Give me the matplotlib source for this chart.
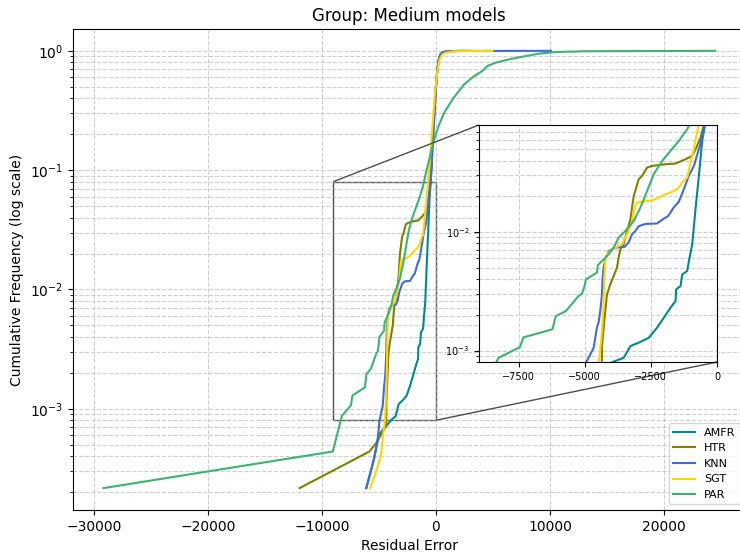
import matplotlib
matplotlib.use("Agg")
import matplotlib.pyplot as plt
from mpl_toolkits.axes_grid1.inset_locator import mark_inset

# Residual error vs cumulative frequency for each model
models = ["AMFR", "HTR", "KNN", "SGT", "PAR"]
colors = ["#008B8B", "#808000", "#4169E1", "#FFD700", "#3CB371"]

amfr_x = [-6100, -5700, -5400, -5050, -4500, -3950, -3528, -3274, -2900, -2580,
          -2265, -2010, -1757, -1567, -1544, -1377, -1316, -1127, -1062, -937,
          -808, -683, -558, -455, -380, -280, -120, 0, 120, 250, 400, 600, 1000,
          2000, 3200]
amfr_y = [2.16e-4, 3.0e-4, 3.9e-4, 6.0e-4, 6.9e-4, 8.0e-4, 8.67e-4, 1.09e-3, 1.18e-3,
          1.28e-3, 1.56e-3, 1.89e-3, 2.30e-3, 2.61e-3, 3.28e-3, 3.50e-3, 4.39e-3,
          4.68e-3, 5.69e-3, 7.87e-3, 1.6e-2, 3.0e-2, 5.9e-2, 8.0e-2, 0.11, 0.18,
          0.32, 0.5, 0.7, 0.85, 0.94, 0.975, 0.993, 0.999, 1.0]

htr_x = [-11950, -5830, -5244, -4807, -4431, -4355, -4345, -4287, -4224, -4161,
         -4034, -3908, -3782, -3718, -3654, -3528, -3402, -3274, -3212, -3149,
         -2959, -2834, -2643, -2454, -1946, -1567, -1188, -937, -808, -618, -493,
         -400, -290, -130, 0, 130, 270, 430, 650, 1000, 2500]
htr_y = [2.16e-4, 4.38e-4, 5.15e-4, 6.05e-4, 7.1e-4, 7.87e-4, 1.12e-3, 1.56e-3,
         2.15e-3, 2.97e-3, 3.61e-3, 4.25e-3, 5.0e-3, 6.08e-3, 7.14e-3, 7.87e-3,
         1.02e-2, 1.28e-2, 1.61e-2, 2.01e-2, 2.79e-2, 2.97e-2, 3.50e-2, 3.61e-2,
         3.73e-2, 3.78e-2, 4.11e-2, 4.39e-2, 5.0e-2, 6.28e-2, 8.1e-2, 0.11, 0.18,
         0.32, 0.5, 0.7, 0.85, 0.94, 0.975, 0.993, 1.0]

knn_x = [-6118, -5681, -5393, -5104, -4958, -4667, -4541, -4477, -4414, -4351,
         -4325, -4287, -4224, -4098, -3844, -3491, -3338, -3212, -3086, -2959,
         -2707, -2265, -2136, -2010, -1850, -1631, -1442, -1252, -1062, -873,
         -747, -640, -558, -455, -370, -260, -110, 10, 130, 260, 420, 650, 1100,
         3000, 10100]
knn_y = [2.16e-4, 3.07e-4, 3.98e-4, 5.32e-4, 7.87e-4, 1.05e-3, 1.56e-3, 1.73e-3,
         2.15e-3, 2.97e-3, 4.11e-3, 5.0e-3, 5.87e-3, 6.9e-3, 7.38e-3, 7.5e-3,
         8.2e-3, 9.57e-3, 1.02e-2, 1.12e-2, 1.17e-2, 1.18e-2, 1.24e-2, 1.30e-2,
         1.36e-2, 1.62e-2, 1.8e-2, 2.3e-2, 3.0e-2, 3.6e-2, 4.5e-2, 5.4e-2, 6.5e-2,
         8.1e-2, 0.11, 0.18, 0.32, 0.5, 0.7, 0.85, 0.94, 0.975, 0.993, 0.998, 1.0]

sgt_x = [-5768, -5244, -4807, -4667, -4470, -4380, -4300, -4260, -4224, -4161,
         -4034, -3844, -3718, -3592, -3465, -3338, -3212, -3149, -3086, -3023,
         -2770, -2454, -2201, -1946, -1631, -1442, -1316, -1127, -998, -873, -808,
         -683, -560, -400, -200, -30, 150, 330, 550, 800, 1200, 1800, 4950]
sgt_y = [2.16e-4, 2.98e-4, 4.11e-4, 5.68e-4, 8.0e-4, 1.2e-3, 2.15e-3, 4.1e-3,
         5.7e-3, 6.49e-3, 6.9e-3, 7.38e-3, 7.62e-3, 7.87e-3, 8.97e-3, 1.02e-2,
         1.24e-2, 1.46e-2, 1.66e-2, 1.77e-2, 1.81e-2, 1.85e-2, 1.95e-2, 2.08e-2,
         2.22e-2, 2.37e-2, 2.62e-2, 2.88e-2, 3.86e-2, 5.0e-2, 6.08e-2, 8.1e-2,
         0.11, 0.18, 0.32, 0.5, 0.7, 0.85, 0.93, 0.96, 0.98, 0.993, 1.0]

par_x = [-29140, -9040, -8250, -7449, -7323, -6222, -6097, -5717, -5236, -5110,
         -5008, -4958, -4541, -4503, -4098, -3908, -3718, -3465, -3149, -2895,
         -2643, -2390, -2074, -1757, -1442, -1127, -874, -524, -149, 227, 725,
         1451, 2473, 3347, 4073, 4510, 5244, 6406, 7866, 9028, 10488, 13000, 24470]
par_y = [2.16e-4, 4.38e-4, 8.7e-4, 1.07e-3, 1.29e-3, 1.51e-3, 1.95e-3, 2.15e-3,
         2.88e-3, 3.01e-3, 3.50e-3, 3.98e-3, 4.54e-3, 5.26e-3, 6.49e-3, 7.38e-3,
         8.97e-3, 1.02e-2, 1.24e-2, 1.61e-2, 2.22e-2, 3.08e-2, 3.98e-2, 4.84e-2,
         5.87e-2, 7.38e-2, 9.5e-2, 0.131, 0.181, 0.234, 0.303, 0.392, 0.524, 0.615,
         0.677, 0.746, 0.796, 0.849, 0.904, 0.947, 0.977, 0.992, 1.0]

xs = [amfr_x, htr_x, knn_x, sgt_x, par_x]
ys = [amfr_y, htr_y, knn_y, sgt_y, par_y]

# zoom window
zoom_x = (-9000, 0)
zoom_y = (8e-4, 0.08)
zoom_xticks = [-7500, -5000, -2500, 0]

fig = plt.figure(figsize=(7.4, 5.53), dpi=100)
ax = fig.add_axes([0.0986, 0.0778, 0.909, 0.8698])

for name, c, x, y in zip(models, colors, xs, ys):
    ax.plot(x, y, color=c, linewidth=1.5, label=name)
ax.set_yscale("log")
ax.set_title("Group: Medium models")
ax.set_xlabel("Residual Error")
ax.set_ylabel("Cumulative Frequency (log scale)")
ax.grid(True, which="both", linestyle="--", alpha=0.6)
ax.legend(loc="lower right", fontsize=8)

# inset with the lower tail
axins = fig.add_axes([0.6473, 0.3454, 0.3216, 0.4286])
for c, x, y in zip(colors, xs, ys):
    axins.plot(x, y, color=c, linewidth=1.5)
axins.set_yscale("log")
axins.set_xlim(*zoom_x)
axins.set_ylim(*zoom_y)
axins.set_xticks(zoom_xticks)
axins.tick_params(labelsize=7)
axins.grid(True, which="both", linestyle="--", alpha=0.6)

mark_inset(ax, axins, loc1=2, loc2=4, fc="none", ec="0.3")

fig.savefig("out.png", dpi=100)
